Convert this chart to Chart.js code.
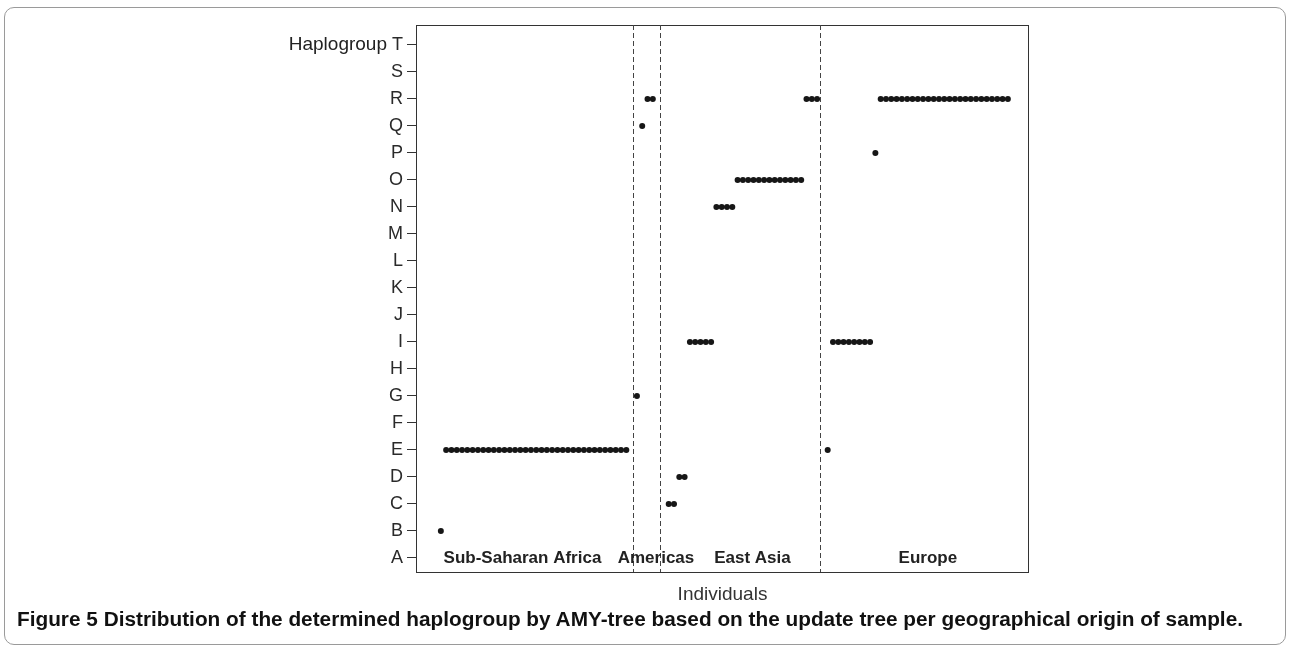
<!DOCTYPE html>
<html>
<head>
<meta charset="utf-8">
<script src="https://cdn.jsdelivr.net/npm/chart.js@4.4.1/dist/chart.umd.min.js"></script>
<style>
  html, body { margin: 0; padding: 0; background: #fff; }
  body { width: 1290px; height: 647px; position: relative; overflow: hidden; font-family: "Liberation Sans", Arial, sans-serif; }
  #frame { position: absolute; left: 4px; top: 7px; width: 1280px; height: 636px; border: 1px solid #9a9a9a; border-radius: 10px; }
  #wrap { position: absolute; left: 0; top: 0; width: 1290px; height: 610px; }
  #caption { position: absolute; left: 17px; top: 608px; font: bold 20px "Liberation Sans Narrow", "Liberation Sans", sans-serif; white-space: nowrap; transform-origin: left top; color: #111; }
</style>
</head>
<body>
<div id="frame"></div>
<div id="wrap"><canvas id="myChart"></canvas></div>
<div id="caption"><span id="captionText">Figure 5 Distribution of the determined haplogroup by AMY-tree based on the update tree per geographical origin of sample.</span></div>
<script>
// Haplogroup categories (y axis)
const haplogroups = ['A', 'B', 'C', 'D', 'E', 'F', 'G', 'H', 'I', 'J', 'K', 'L', 'M', 'N', 'O', 'P', 'Q', 'R', 'S', 'T'];

// Haplogroup per individual, in plot order ('.' = no call)
const africa   = 'BEEEEEEEEEEEEEEEEEEEEEEEEEEEEEEEEEEE.';
const americas = 'GQRR..';
const eastAsia = 'CCDDIIIIINNNNOOOOOOOOOOOOORRR.';
const europe   = 'EIIIIIIIIPRRRRRRRRRRRRRRRRRRRRRRRRR';

// Region names and the dividers between them (in individual units)
const regionNames = ['Sub-Saharan Africa', 'Americas', 'East Asia', 'Europe'];
const regionBreaks = [37.3, 42.4, 72.6];

// where the region names sit along the x axis
const regionLabelAt = [16.4, 41.6, 59.8, 92.9];

const allCalls = (africa + americas + eastAsia + europe).split('');
const points = [];
allCalls.forEach((h, i) => {
    if (h !== '.') {
        points.push({ x: i + 1, y: haplogroups.indexOf(h) });
    }
});

const fontFamily = '"Liberation Sans", Arial, sans-serif';

// Box, dashed region dividers, region names and the y axis title
const extras = {
    id: 'extras',
    afterDraw(chart) {
        const { ctx, chartArea: a, scales: { x, y } } = chart;
        ctx.save();
        ctx.strokeStyle = '#333';
        ctx.lineWidth = 1;
        ctx.strokeRect(Math.round(a.left) - 0.5, Math.round(a.top) + 0.5, Math.round(a.right - a.left) + 1, Math.round(a.bottom - a.top));

        ctx.setLineDash([5, 3]);
        ctx.strokeStyle = '#444';
        regionBreaks.forEach(b => {
            const px = Math.round(x.getPixelForValue(b)) + 0.5;
            ctx.beginPath();
            ctx.moveTo(px, a.top);
            ctx.lineTo(px, a.bottom);
            ctx.stroke();
        });
        ctx.setLineDash([]);

        ctx.fillStyle = '#222';
        ctx.font = 'bold 17px ' + fontFamily;
        ctx.textAlign = 'center';
        ctx.textBaseline = 'middle';
        regionNames.forEach((name, i) => {
            ctx.fillText(name, x.getPixelForValue(regionLabelAt[i]), y.getPixelForValue(0));
        });

        ctx.font = '19px ' + fontFamily;
        ctx.textAlign = 'right';
        ctx.fillText('Haplogroup', 387, y.getPixelForValue(haplogroups.length - 1));
        ctx.restore();
    }
};

const ctx = document.getElementById('myChart');

new Chart(ctx, {
    type: 'scatter',
    data: {
        datasets: [{
            data: points,
            backgroundColor: '#161616',
            borderColor: '#161616',
            pointRadius: 3,
            borderWidth: 0
        }]
    },
    options: {
        responsive: true,
        maintainAspectRatio: false,
        animation: false,
        layout: { padding: { left: 0, right: 262, top: 25, bottom: 0 } },
        plugins: { legend: { display: false }, tooltip: { enabled: false } },
        scales: {
            x: {
                type: 'linear',
                min: -3.5,
                max: 111.8,
                afterFit: s => { s.height = 38; },
                grid: { display: false },
                border: { display: false },
                ticks: { display: false },
                title: {
                    display: true,
                    text: 'Individuals',
                    color: '#333',
                    font: { size: 19, family: fontFamily },
                    padding: { top: 4, bottom: 4 }
                }
            },
            y: {
                type: 'linear',
                min: -0.52,
                max: 19.74,
                afterFit: s => { s.width = 417; },
                grid: { drawOnChartArea: false, drawTicks: true, tickLength: 10, color: '#333' },
                border: { display: false },
                ticks: {
                    stepSize: 1,
                    includeBounds: false,
                    autoSkip: false,
                    padding: 4,
                    color: '#2a2a2a',
                    font: { size: 18, family: fontFamily },
                    callback: v => haplogroups[v] ?? ''
                }
            }
        }
    },
    plugins: [extras]
});

// squeeze the caption to the width it has in the figure
const cap = document.getElementById('caption');
const w = document.getElementById('captionText').getBoundingClientRect().width;
cap.style.transform = 'scaleX(' + (1226 / w) + ')';
</script>
</body>
</html>
